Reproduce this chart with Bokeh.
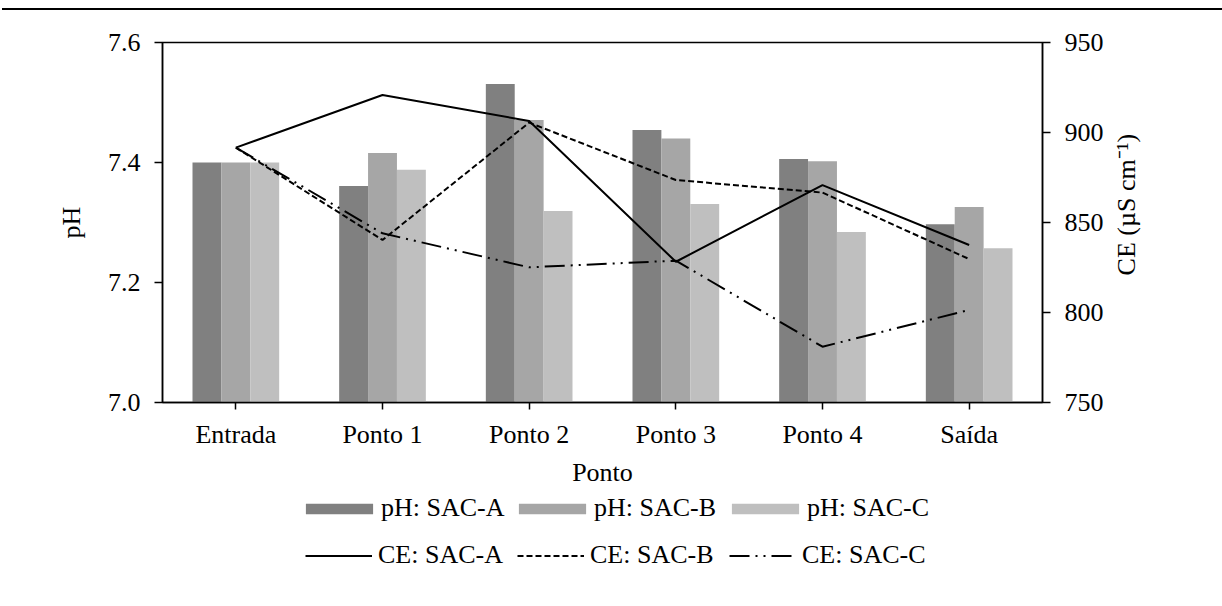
import math
from bokeh.plotting import figure
from bokeh.models import (FactorRange, Range1d, LinearAxis, FixedTicker, PrintfTickFormatter,
                          Legend, LegendItem, Div, ColumnDataSource)
from bokeh.transform import dodge
from bokeh.layouts import column
from bokeh.embed import file_html
from bokeh.resources import INLINE

# ---------------- data ----------------
pontos = ["Entrada", "Ponto 1", "Ponto 2", "Ponto 3", "Ponto 4", "Saída"]
ph_sac_a = [7.400, 7.361, 7.531, 7.454, 7.406, 7.297]
ph_sac_b = [7.400, 7.416, 7.471, 7.440, 7.402, 7.326]
ph_sac_c = [7.400, 7.388, 7.319, 7.331, 7.284, 7.257]
ce_sac_a = [891.6, 920.8, 906.4, 828.2, 870.8, 837.5]
ce_sac_b = [891.6, 840.3, 905.5, 873.6, 866.6, 829.7]
ce_sac_c = [891.6, 844.0, 825.1, 828.8, 781.0, 801.4]
ph_ticks = [7.0, 7.2, 7.4, 7.6]
ce_ticks = [750, 800, 850, 900, 950]
ph_labels = ["pH: SAC-A", "pH: SAC-B", "pH: SAC-C"]
ce_labels = ["CE: SAC-A", "CE: SAC-B", "CE: SAC-C"]
x_title = "Ponto"
y_title = "pH"
y2_title = "CE (µS cm⁻¹)"

FONT = "Liberation Serif"
FS = "26px"
BAR_W = 0.197
bar_colors = ["#808080", "#a6a6a6", "#bfbfbf"]
line_dashes = ["solid", "6 3", "20 6 2 6 2 6"]
Y2_TITLE_START = 820.6   # where the rotated right-hand title begins (CE units)

p = figure(x_range=FactorRange(factors=pontos, range_padding=0),
           y_range=Range1d(ph_ticks[0], ph_ticks[-1]),
           frame_width=880, frame_height=360,
           min_border_left=162, min_border_right=180,
           min_border_top=32, min_border_bottom=90,
           output_backend="svg", toolbar_location=None)
p.extra_y_ranges = {"ce": Range1d(ce_ticks[0], ce_ticks[-1])}
p.xgrid.visible = False
p.ygrid.visible = False
p.outline_line_color = "black"
p.outline_line_width = 1.5
p.outline_line_alpha = 1.0
p.background_fill_color = "white"
p.border_fill_color = "white"

src = ColumnDataSource(dict(x=pontos, a=ph_sac_a, b=ph_sac_b, c=ph_sac_c))
for col, off, colr in zip(["a", "b", "c"], [-BAR_W, 0.0, BAR_W], bar_colors):
    p.vbar(x=dodge("x", off, range=p.x_range), top=col, bottom=ph_ticks[0],
           width=BAR_W, source=src, fill_color=colr, line_color=None)

for ys, dash in zip([ce_sac_a, ce_sac_b, ce_sac_c], line_dashes):
    p.line(x=pontos, y=ys, y_range_name="ce", line_color="black",
           line_width=2, line_dash=dash)


def style_axis(ax):
    ax.axis_line_color = "black"
    ax.axis_line_width = 1.5
    ax.major_tick_line_color = "black"
    ax.major_tick_line_width = 1.5
    ax.major_tick_out = 8
    ax.major_tick_in = 0
    ax.minor_tick_line_color = None
    ax.major_label_text_font = FONT
    ax.major_label_text_font_size = FS
    ax.major_label_text_color = "black"
    ax.axis_label_text_font = FONT
    ax.axis_label_text_font_size = FS
    ax.axis_label_text_font_style = "normal"
    ax.axis_label_text_color = "black"


yl = p.yaxis[0]
style_axis(yl)
yl.ticker = FixedTicker(ticks=ph_ticks)
yl.formatter = PrintfTickFormatter(format="%.1f")
yl.axis_label = y_title
yl.major_label_standoff = 14
yl.axis_label_standoff = 19

xb = p.xaxis[0]
style_axis(xb)
xb.major_tick_out = 7
xb.axis_label = x_title
xb.major_label_standoff = 10
xb.axis_label_standoff = 6

yr = LinearAxis(y_range_name="ce", ticker=FixedTicker(ticks=ce_ticks))
style_axis(yr)
yr.major_label_standoff = 14
p.add_layout(yr, "right")

# right-hand title, written bottom-to-top, carried by a bare secondary axis
yt = LinearAxis(y_range_name="ce", ticker=FixedTicker(ticks=[Y2_TITLE_START]),
                major_label_overrides={Y2_TITLE_START: y2_title})
style_axis(yt)
yt.axis_line_color = None
yt.major_tick_line_color = None
yt.major_tick_out = 0
yt.major_label_orientation = math.pi / 2
yt.major_label_standoff = 20
p.add_layout(yt, "right")

# ---------------- legend strip ----------------
LEG_H = 100
q = figure(width=1222, height=LEG_H, x_range=Range1d(0, 1), y_range=Range1d(0, 1),
           x_axis_type=None, y_axis_type=None,
           min_border_left=0, min_border_right=0, min_border_top=0, min_border_bottom=0,
           output_backend="svg", toolbar_location=None)
q.grid.visible = False
q.outline_line_color = None
q.background_fill_color = "white"
q.border_fill_color = "white"

# legend-only renderers, kept outside the visible range of this strip
leg_bars = [q.vbar(x=[-1], top=[-1], bottom=[-2], width=0.1, fill_color=c, line_color=None)
            for c in bar_colors]
leg_lines = [q.line(x=[-2, -1], y=[-2, -1], line_color="black", line_width=2, line_dash=d)
             for d in line_dashes]

common = dict(orientation="horizontal", padding=0, margin=0, border_line_color=None,
              background_fill_alpha=0, label_text_font=FONT, label_text_font_size=FS,
              label_text_color="black", label_width=126, label_height=30)
leg1 = Legend(items=[LegendItem(label=l, renderers=[r]) for l, r in zip(ph_labels, leg_bars)],
              location=(135, 69), glyph_width=84, glyph_height=13,
              label_standoff=0, spacing=3, **common)
leg2 = Legend(items=[LegendItem(label=l, renderers=[r]) for l, r in zip(ce_labels, leg_lines)],
              location=(143, 22), glyph_width=67, glyph_height=13,
              label_standoff=6, spacing=13, **common)
q.add_layout(leg1, "center")
q.add_layout(leg2, "center")

top_rule = Div(text="", width=1220, height=2, margin=(8, 0, 0, 2),
               styles={"background-color": "black"})
layout = column(top_rule, p, q, spacing=0)

open("out.html", "w").write(file_html(layout, INLINE))
